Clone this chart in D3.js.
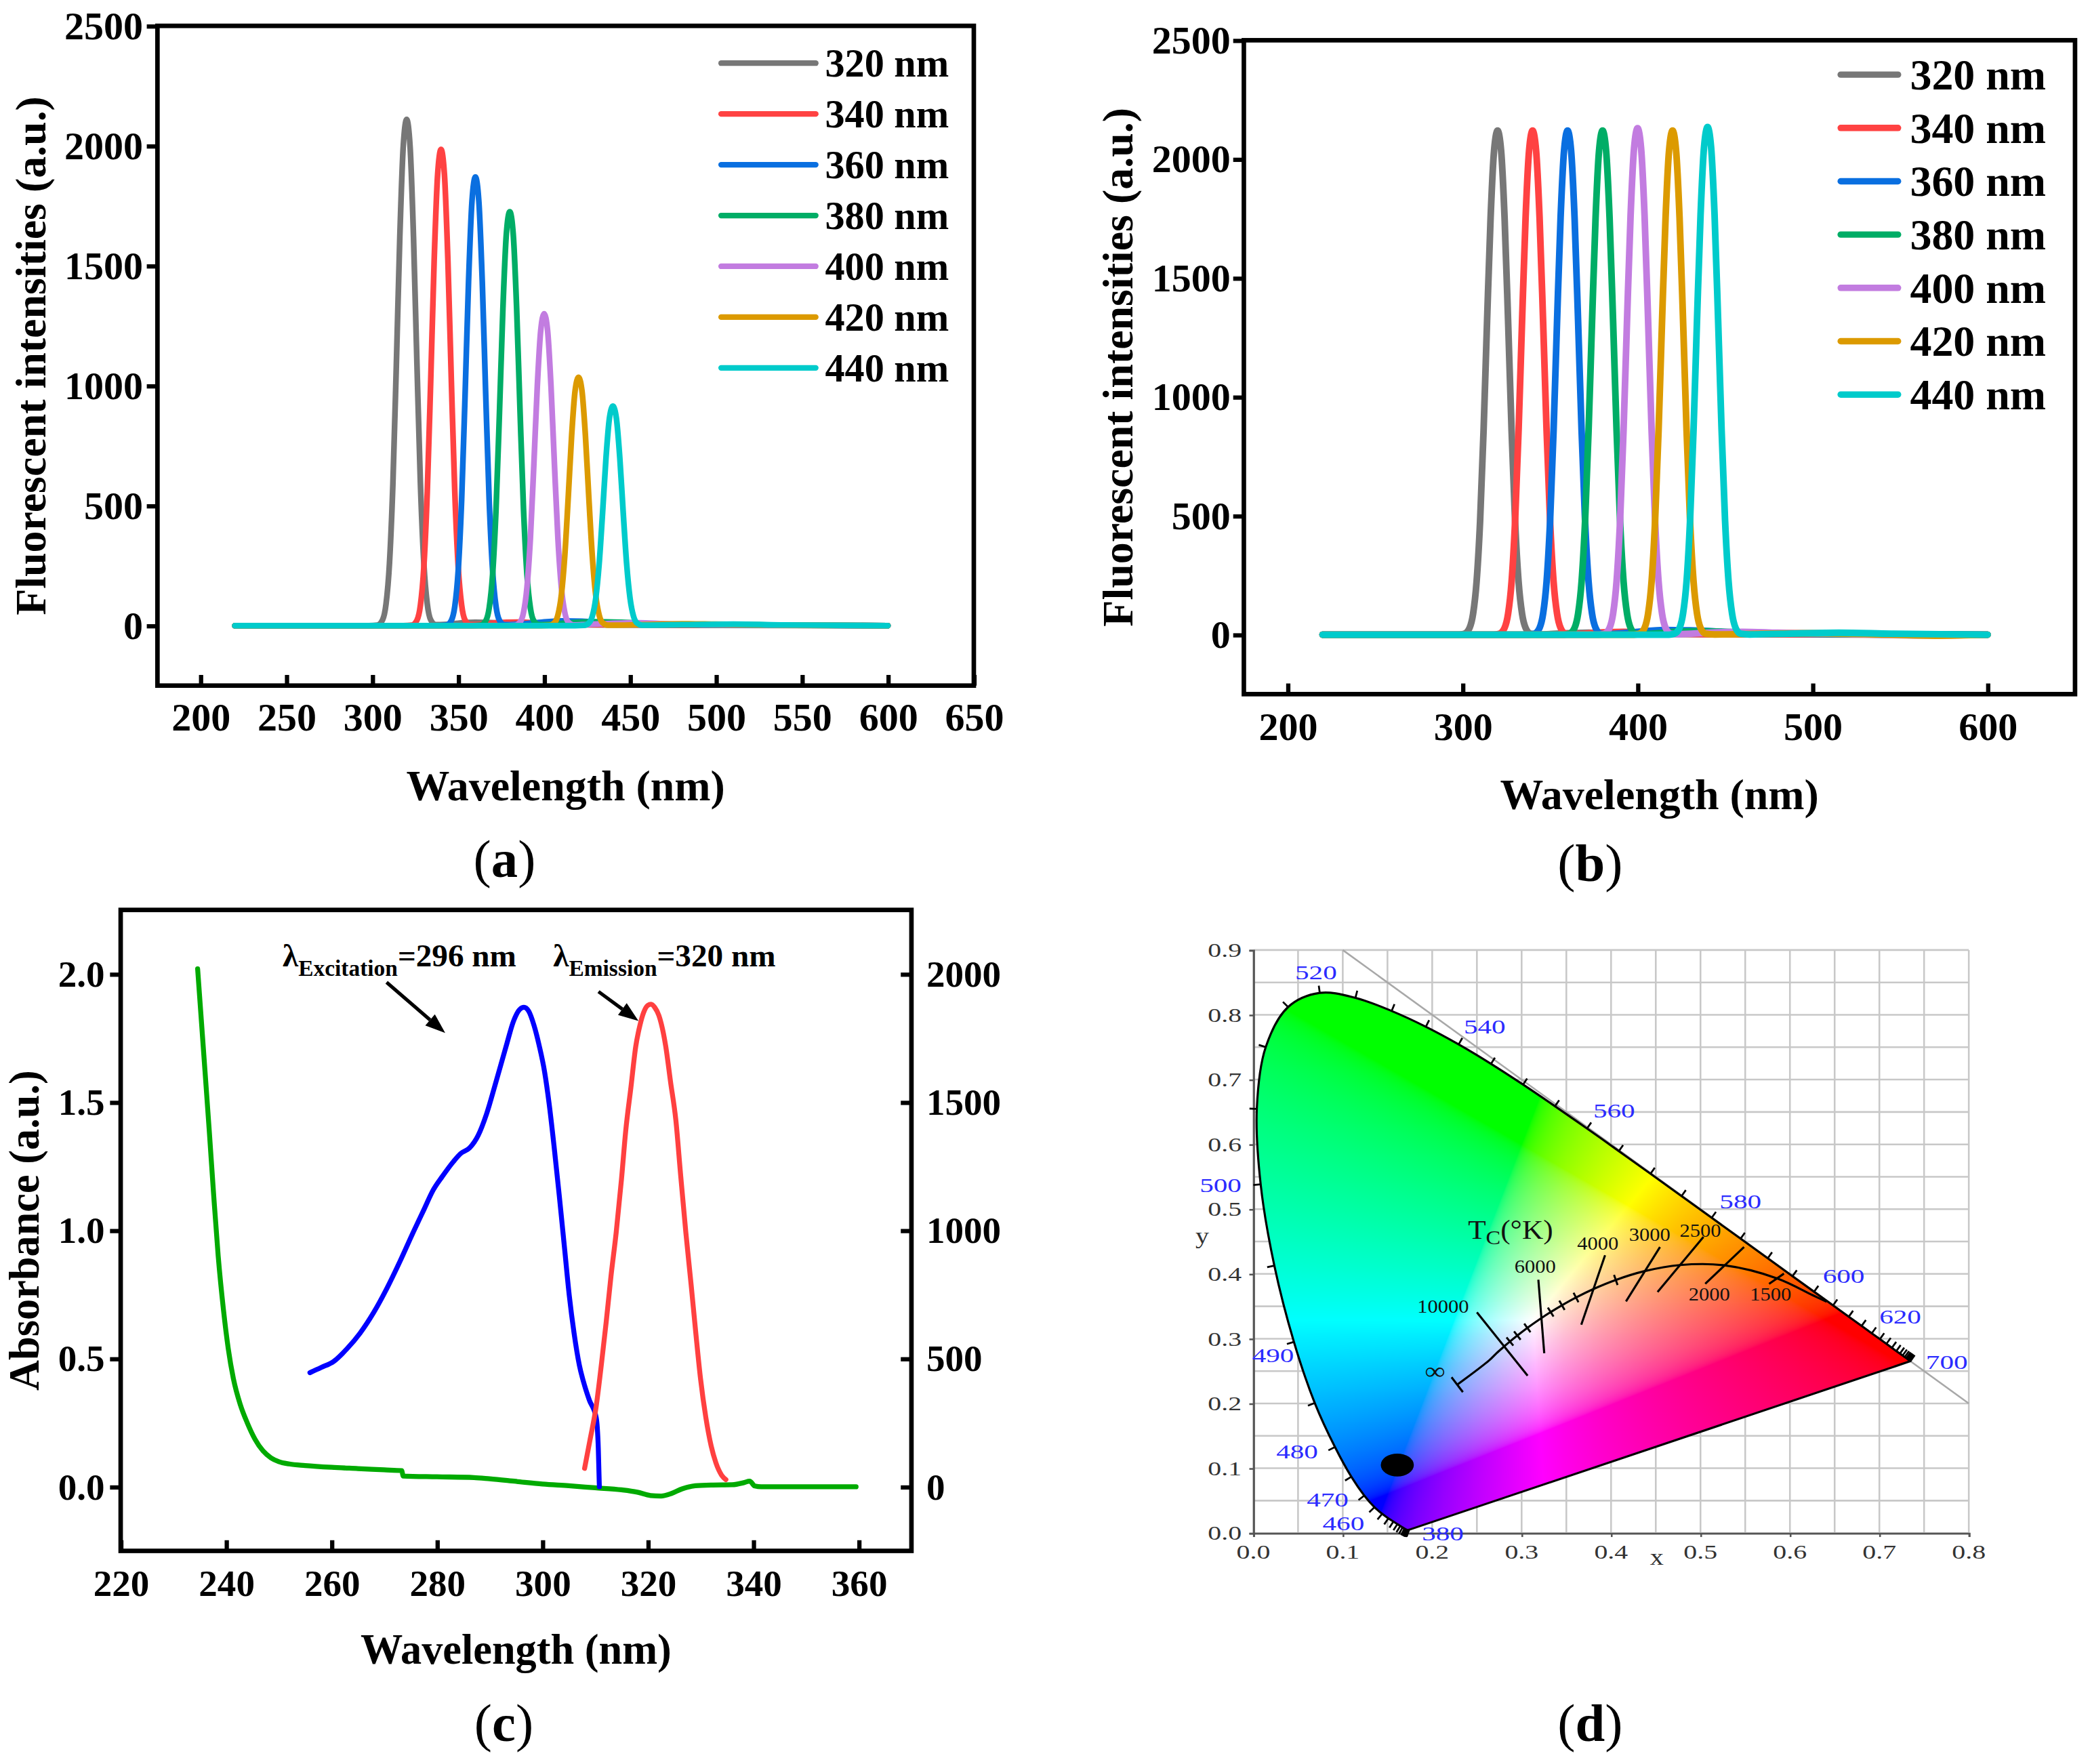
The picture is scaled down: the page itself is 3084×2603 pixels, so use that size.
<!DOCTYPE html>
<html>
<head>
<meta charset="utf-8">
<title>Fluorescence spectra and CIE chromaticity</title>
<script src="https://cdn.jsdelivr.net/npm/d3@7/dist/d3.min.js"></script>
<style>
html,body{margin:0;padding:0;background:#ffffff;overflow:hidden;}
svg{display:block;}
</style>
</head>
<body>
<svg id="fig" width="3084" height="2603" viewBox="0 0 1568 1323.5" xmlns="http://www.w3.org/2000/svg"></svg>
<script>
// ================= DATA =================
const legendLabels = ['320 nm','340 nm','360 nm','380 nm','400 nm','420 nm','440 nm'];
const seriesColors = ['#777777','#ff4242','#0a6fe0','#00ad66','#c27ce0','#dc9a00','#00cbcb'];
const wlTicksA = [200,250,300,350,400,450,500,550,600,650];
const wlTicksB = [200,300,400,500,600];
const intensityTicks = [0,500,1000,1500,2000,2500];

// (a) emission spectra at different excitation wavelengths  [nm, intensity]
const a320 = [[220,0],[298,0],[303,2],[306,24],[308,90],[310,260],[312,593],[314,1087],[316,1616],[318,1996],[320,2110],[322,1996],[324,1616],[326,1087],[328,593],[330,260],[332,90],[334,24],[337,4],[342,5],[350,10],[360,14],[372,12],[385,6],[420,3],[500,1],[600,0]];
const a340 = [[220,0],[318,0],[323,2],[326,23],[328,85],[330,244],[332,558],[334,1022],[336,1521],[338,1878],[340,1985],[342,1878],[344,1521],[346,1022],[348,558],[350,244],[352,85],[354,23],[357,4],[362,5],[372,12],[385,15],[398,10],[420,5],[500,2],[600,0]];
const a360 = [[220,0],[338,0],[343,2],[346,22],[348,80],[350,230],[352,525],[354,963],[356,1432],[358,1769],[360,1870],[362,1769],[364,1432],[366,963],[368,525],[370,230],[372,80],[374,22],[377,4],[382,5],[395,12],[410,20],[422,18],[440,8],[500,3],[600,0]];
const a380 = [[220,0],[358,0],[363,2],[366,20],[368,73],[370,212],[372,485],[374,888],[376,1321],[378,1632],[380,1725],[382,1632],[384,1321],[386,888],[388,485],[390,212],[392,73],[394,20],[397,4],[402,5],[415,12],[430,16],[445,14],[470,6],[520,2],[600,0]];
const a400 = [[220,0],[378,0],[383,1],[386,15],[388,55],[390,160],[392,365],[394,670],[396,996],[398,1230],[400,1300],[402,1230],[404,996],[406,670],[408,365],[410,160],[412,55],[414,15],[417,3],[422,4],[440,10],[455,12],[470,8],[500,3],[600,0]];
const a420 = [[220,0],[398,0],[403,1],[406,12],[408,44],[410,127],[412,291],[414,533],[416,793],[418,979],[420,1035],[422,979],[424,793],[426,533],[428,291],[430,127],[432,44],[434,12],[437,2],[442,2],[460,5],[480,8],[500,6],[530,3],[600,0]];
const a440 = [[220,0],[418,0],[423,1],[426,11],[428,39],[430,113],[432,257],[434,471],[436,701],[438,866],[440,915],[442,866],[444,701],[446,471],[448,257],[450,113],[452,39],[454,11],[457,2],[462,2],[480,4],[510,6],[540,3],[600,0]];

// (b) normalised emission spectra  [nm, intensity]
const b320 = [[220,0],[298,0],[301,4],[304,29],[306,88],[308,223],[310,477],[312,859],[314,1321],[316,1753],[318,2037],[320,2120],[322,2037],[324,1753],[326,1321],[328,859],[330,477],[332,223],[334,88],[336,29],[339,4],[343,1],[360,6],[372,8],[390,4],[450,2],[600,0]];
const b340 = [[220,0],[318,0],[321,4],[324,29],[326,88],[328,223],[330,477],[332,859],[334,1321],[336,1753],[338,2037],[340,2120],[342,2037],[344,1753],[346,1321],[348,859],[350,477],[352,223],[354,88],[356,29],[359,4],[363,2],[380,10],[392,12],[410,6],[460,2],[600,0]];
const b360 = [[220,0],[338,0],[341,4],[344,29],[346,88],[348,223],[350,477],[352,859],[354,1321],[356,1753],[358,2037],[360,2120],[362,2037],[364,1753],[366,1321],[368,859],[370,477],[372,223],[374,88],[376,29],[379,4],[384,3],[400,12],[415,20],[430,18],[460,8],[520,2],[600,0]];
const b380 = [[220,0],[358,0],[361,4],[364,29],[366,88],[368,223],[370,477],[372,859],[374,1321],[376,1753],[378,2037],[380,2120],[382,2037],[384,1753],[386,1321],[388,859],[390,477],[392,223],[394,88],[396,29],[399,4],[404,3],[420,12],[435,15],[450,12],[490,5],[540,1],[600,0]];
const b400 = [[220,0],[378,0],[381,4],[384,29],[386,88],[388,224],[390,479],[392,863],[394,1327],[396,1762],[398,2047],[400,2130],[402,2047],[404,1762],[406,1327],[408,863],[410,479],[412,224],[414,88],[416,29],[419,4],[424,2],[440,8],[460,12],[480,8],[520,3],[560,-3],[600,0]];
const b420 = [[220,0],[398,0],[401,4],[404,29],[406,88],[408,223],[410,477],[412,859],[414,1321],[416,1753],[418,2037],[420,2120],[422,2037],[424,1753],[426,1321],[428,859],[430,477],[432,223],[434,88],[436,29],[439,4],[444,1],[470,4],[500,6],[530,3],[570,-4],[600,0]];
const b440 = [[220,0],[418,0],[421,4],[424,29],[426,89],[428,224],[430,480],[432,865],[434,1330],[436,1766],[438,2052],[440,2135],[442,2052],[444,1766],[446,1330],[448,865],[450,480],[452,224],[454,89],[456,29],[459,4],[464,1],[490,5],[515,8],[545,4],[600,0]];

// (c) absorbance (left axis) and excitation / emission (right axis)
const wlTicksC = [220,240,260,280,300,320,340,360];
const absTicks = [0,0.5,1.0,1.5,2.0];
const intTicksC = [0,500,1000,1500,2000];
const cAbsorbance = [[234.6,2.02],[235.3,1.82],[236,1.62],[236.8,1.39],[237.6,1.15],[238.5,0.90],[239.5,0.69],[240.4,0.54],[241.4,0.42],[242.7,0.32],[244,0.25],[245.5,0.185],[247,0.14],[248.5,0.113],[250,0.098],[252,0.089],[255,0.083],[260,0.076],[265,0.071],[270,0.066],[273.3,0.063],[273.6,0.042],[280,0.039],[287,0.036],[290,0.031],[295,0.021],[300,0.011],[305,0.004],[310,-0.004],[315,-0.012],[318,-0.021],[320.5,-0.034],[322.5,-0.036],[324.5,-0.026],[326.5,-0.008],[329,0.004],[332,0.007],[336,0.008],[338.2,0.016],[339.3,0.022],[340.3,0.003],[341.5,0],[359.5,0]];
const cExcitation = [[255.9,445],[258,465],[260.4,489],[263,540],[265.4,599],[268,680],[270.5,774],[273,880],[275.5,993],[277.5,1080],[279.3,1158],[281,1210],[283.1,1268],[284.5,1300],[286.2,1322],[287.8,1370],[289.4,1454],[291.2,1580],[293.1,1717],[294.5,1815],[295.7,1862],[296.5,1870],[297.4,1855],[298.4,1800],[299.4,1720],[300.4,1620],[301.3,1490],[302.2,1330],[303.2,1135],[304.2,930],[305.1,745],[306,600],[307,475],[308,395],[308.9,338],[310.2,270],[310.6,150],[310.8,0]];
const cEmission = [[308,72],[309,180],[310.2,314],[311.2,480],[312.1,643],[313,820],[314,993],[315,1200],[315.8,1388],[316.8,1560],[317.7,1717],[318.5,1800],[319.2,1850],[320,1878],[320.6,1882],[321.3,1870],[322.1,1838],[323.4,1717],[324.3,1580],[325.3,1432],[326.2,1220],[327.2,993],[328.2,790],[329.1,599],[330,420],[331,270],[332,160],[332.9,94],[334,45],[334.8,28]];

// (d) CIE 1931 chromaticity diagram
const cieAxisX = [0,0.1,0.2,0.3,0.4,0.5,0.6,0.7,0.8];
const cieAxisY = [0,0.1,0.2,0.3,0.4,0.5,0.6,0.7,0.8,0.9];
const cieLocus = [[380,0.1741,0.0050],[385,0.1740,0.0050],[390,0.1738,0.0049],[395,0.1736,0.0049],[400,0.1733,0.0048],[405,0.1730,0.0048],[410,0.1726,0.0048],[415,0.1721,0.0048],[420,0.1714,0.0051],[425,0.1703,0.0058],[430,0.1689,0.0069],[435,0.1669,0.0086],[440,0.1644,0.0109],[445,0.1611,0.0138],[450,0.1566,0.0177],[455,0.1510,0.0227],[460,0.1440,0.0297],[465,0.1355,0.0399],[470,0.1241,0.0578],[475,0.1096,0.0868],[480,0.0913,0.1327],[485,0.0687,0.2007],[490,0.0454,0.2950],[495,0.0235,0.4127],[500,0.0082,0.5384],[505,0.0039,0.6548],[510,0.0139,0.7502],[515,0.0389,0.8120],[520,0.0743,0.8338],[525,0.1142,0.8262],[530,0.1547,0.8059],[535,0.1929,0.7816],[540,0.2296,0.7543],[545,0.2658,0.7243],[550,0.3016,0.6923],[555,0.3373,0.6589],[560,0.3731,0.6245],[565,0.4087,0.5896],[570,0.4441,0.5547],[575,0.4788,0.5202],[580,0.5125,0.4866],[585,0.5448,0.4544],[590,0.5752,0.4242],[595,0.6029,0.3965],[600,0.6270,0.3725],[605,0.6482,0.3514],[610,0.6658,0.3340],[615,0.6801,0.3197],[620,0.6915,0.3083],[625,0.7006,0.2993],[630,0.7079,0.2920],[635,0.7140,0.2859],[640,0.7190,0.2809],[645,0.7230,0.2770],[650,0.7260,0.2740],[655,0.7283,0.2717],[660,0.7300,0.2700],[665,0.7311,0.2689],[670,0.7320,0.2680],[675,0.7327,0.2673],[680,0.7334,0.2666],[690,0.7344,0.2656],[700,0.7347,0.2653]];
const cieLabelWl = ['520','540','560','580','600','620','700','500','490','480','470','460','380'];
const cieLabelXY = [[0.0467,0.8546],[0.2353,0.7707],[0.38,0.642],[0.5213,0.5014],[0.6367,0.3866],[0.70,0.3235],[0.752,0.2535],[-0.06,0.5266],[-0.0013,0.2636],[0.0256,0.1156],[0.0597,0.041],[0.0774,0.004],[0.1885,-0.011]];
const planckLocus = [[0.228,0.229],[0.2637,0.2666],[0.2719,0.2776],[0.2807,0.2883],[0.2869,0.2956],[0.2952,0.3048],[0.3064,0.3166],[0.3221,0.3318],[0.3325,0.3411],[0.3451,0.3516],[0.3608,0.3636],[0.3805,0.3768],[0.4053,0.3907],[0.4369,0.4041],[0.4770,0.4137],[0.5267,0.4133],[0.5857,0.3931],[0.6251,0.3674],[0.641,0.357]];
const planckMinorTicks = [[0.2869,0.2956],[0.2952,0.3048],[0.3064,0.3166],[0.3325,0.3411],[0.3451,0.3516],[0.3608,0.3636],[0.4053,0.3907]];
const cctLabels = ['10000','6000','4000','3000','2500','2000','1500'];
const cctIsotherms = [[[0.25,0.3406],[0.3067,0.2428]],[[0.3187,0.391],[0.3253,0.2775]],[[0.3933,0.4289],[0.3667,0.3216]],[[0.4547,0.4415],[0.4167,0.3576]],[[0.5033,0.4572],[0.452,0.3721]],[[0.5487,0.4415],[0.5053,0.3847]],[[0.5933,0.4005],[0.5767,0.3847]]];
const cctLabelXY = [[0.1833,0.3406],[0.292,0.4017],[0.362,0.437],[0.42,0.451],[0.4767,0.4572],[0.4867,0.3595],[0.5553,0.3595]];
const cieSample = [0.161,0.105];

// ================= DRAWING =================
const FONT = "'Liberation Serif','Times New Roman',Times,serif";
const svg = d3.select('#fig');
svg.append('rect').attr('x',0).attr('y',0).attr('width',1568).attr('height',1323.5).attr('fill','#fff');
const defs = svg.append('defs');

function panelLabel(cx, by, letter){
  const t = svg.append('text').attr('x',cx).attr('y',by).attr('text-anchor','middle')
    .attr('font-family',FONT).attr('font-size',40).attr('fill','#000');
  t.append('tspan').text('(');
  t.append('tspan').attr('font-weight','bold').text(letter);
  t.append('tspan').text(')');
}

function styleAxis(ax, fs){
  ax.select('.domain').remove();
  ax.attr('font-family',FONT).attr('font-size',fs).attr('font-weight','bold');
  ax.selectAll('line').attr('stroke','#000').attr('stroke-width',3.2);
  ax.selectAll('text').attr('fill','#000');
}

function spectraPanel(o){
  const g = svg.append('g');
  const x = d3.scaleLinear().domain([175,650]).range([o.left,o.right]);
  const y = d3.scaleLinear().domain([-250,2500]).range([o.bottom,o.top]);
  defs.append('clipPath').attr('id','clip'+o.id).append('rect')
    .attr('x',o.left).attr('y',o.top).attr('width',o.right-o.left).attr('height',o.bottom-o.top);
  const line = d3.line().x(d=>x(d[0])).y(d=>y(d[1])).curve(d3.curveMonotoneX);
  g.append('g').attr('clip-path','url(#clip'+o.id+')')
    .selectAll('path').data(o.series).join('path')
    .attr('d',line).attr('fill','none')
    .attr('stroke',(d,i)=>seriesColors[i]).attr('stroke-width',o.lw)
    .attr('stroke-linejoin','round').attr('stroke-linecap','round');

  const xa = g.append('g').attr('transform',`translate(0,${o.bottom})`)
    .call(d3.axisBottom(x).tickValues(o.xticks).tickSize(-8).tickFormat(d3.format('d')));
  styleAxis(xa, o.tickFs);
  xa.selectAll('text').attr('y',o.xLabOff).attr('dy',0);

  const ya = g.append('g').attr('transform',`translate(${o.left},0)`)
    .call(d3.axisLeft(y).tickValues(intensityTicks).tickSize(8).tickPadding(o.yPad).tickFormat(d3.format('d')));
  styleAxis(ya, o.tickFs);

  g.append('rect').attr('x',o.left).attr('y',o.top).attr('width',o.right-o.left).attr('height',o.bottom-o.top)
    .attr('fill','none').attr('stroke','#000').attr('stroke-width',3.4);

  // legend
  const lg = g.append('g');
  legendLabels.forEach((lab,i)=>{
    const yy = o.legY0 + i*o.legDy;
    lg.append('line').attr('x1',o.legX1).attr('x2',o.legX2).attr('y1',yy).attr('y2',yy)
      .attr('stroke',seriesColors[i]).attr('stroke-width',o.legLw).attr('stroke-linecap','round');
    lg.append('text').attr('x',o.legTx).attr('y',yy+o.legFs*0.34)
      .attr('font-family',FONT).attr('font-weight','bold').attr('font-size',o.legFs).attr('fill','#000').text(lab);
  });

  // titles
  g.append('text').attr('x',(o.left+o.right)/2).attr('y',o.xTitleY).attr('text-anchor','middle')
    .attr('font-family',FONT).attr('font-weight','bold').attr('font-size',o.titleFs).text('Wavelength (nm)');
  g.append('text').attr('transform',`translate(${o.yTitleX},${(o.top+o.bottom)/2}) rotate(-90)`)
    .attr('text-anchor','middle').attr('font-family',FONT).attr('font-weight','bold').attr('font-size',o.titleFs)
    .text('Fluorescent intensities (a.u.)');
}

spectraPanel({id:'a', left:118.1, right:730.6, top:19.4, bottom:514.4, series:[a320,a340,a360,a380,a400,a420,a440],
  xticks:wlTicksA, lw:4.3, tickFs:29.5, xLabOff:33.6, yPad:2.8,
  legX1:541, legX2:612, legY0:47.4, legDy:38.1, legTx:619, legFs:29.6, legLw:4.2,
  titleFs:32.5, xTitleY:600.6, yTitleX:34});
panelLabel(378.5, 658, 'a');

spectraPanel({id:'b', left:933.2, right:1556.8, top:30.2, bottom:520.8, series:[b320,b340,b360,b380,b400,b420,b440],
  xticks:wlTicksB, lw:5.0, tickFs:29.5, xLabOff:34.2, yPad:2,
  legX1:1381, legX2:1424, legY0:56, legDy:40, legTx:1433, legFs:32.5, legLw:4.8,
  titleFs:32.5, xTitleY:607, yTitleX:849.5});
panelLabel(1193, 661, 'b');

// ---------- panel (c) ----------
(function(){
  const L=90.5, R=683.8, T=682.7, B=1163.6;
  const g = svg.append('g');
  const x = d3.scaleLinear().domain([220,370]).range([L,R]);
  const yL = d3.scaleLinear().domain([-0.25,2.25]).range([B,T]);
  const yR = d3.scaleLinear().domain([-250,2250]).range([B,T]);
  defs.append('clipPath').attr('id','clipc').append('rect').attr('x',L).attr('y',T).attr('width',R-L).attr('height',B-T);
  const cg = g.append('g').attr('clip-path','url(#clipc)');
  const lineL = d3.line().x(d=>x(d[0])).y(d=>yL(d[1])).curve(d3.curveMonotoneX);
  const lineR = d3.line().x(d=>x(d[0])).y(d=>yR(d[1])).curve(d3.curveMonotoneX);
  cg.append('path').attr('d',lineL(cAbsorbance)).attr('fill','none').attr('stroke','#00aa00').attr('stroke-width',3.7).attr('stroke-linecap','round').attr('stroke-linejoin','round');
  cg.append('path').attr('d',lineR(cExcitation)).attr('fill','none').attr('stroke','#0000ff').attr('stroke-width',3.7).attr('stroke-linecap','round').attr('stroke-linejoin','round');
  cg.append('path').attr('d',lineR(cEmission)).attr('fill','none').attr('stroke','#ff4040').attr('stroke-width',3.7).attr('stroke-linecap','round').attr('stroke-linejoin','round');

  const xa = g.append('g').attr('transform',`translate(0,${B})`)
    .call(d3.axisBottom(x).tickValues(wlTicksC).tickSize(-8).tickFormat(d3.format('d')));
  styleAxis(xa, 28);
  xa.selectAll('text').attr('y',34).attr('dy',0);
  const ya = g.append('g').attr('transform',`translate(${L},0)`)
    .call(d3.axisLeft(yL).tickValues(absTicks).tickSize(8).tickPadding(4).tickFormat(d3.format('.1f')));
  styleAxis(ya, 28);
  const yr = g.append('g').attr('transform',`translate(${R},0)`)
    .call(d3.axisRight(yR).tickValues(intTicksC).tickSize(-8).tickPadding(11.2).tickFormat(d3.format('d')));
  styleAxis(yr, 28);
  yr.selectAll('text').attr('x',11.2);

  g.append('rect').attr('x',L).attr('y',T).attr('width',R-L).attr('height',B-T)
    .attr('fill','none').attr('stroke','#000').attr('stroke-width',3.4);

  g.append('text').attr('x',(L+R)/2).attr('y',1248).attr('text-anchor','middle')
    .attr('font-family',FONT).attr('font-weight','bold').attr('font-size',31.7).text('Wavelength (nm)');
  g.append('text').attr('transform',`translate(29,${(T+B)/2}) rotate(-90)`).attr('text-anchor','middle')
    .attr('font-family',FONT).attr('font-weight','bold').attr('font-size',31.7).text('Absorbance (a.u.)');

  // annotations
  function annot(x0, y0, sub, rest){
    const t = g.append('text').attr('x',x0).attr('y',y0).attr('font-family',FONT).attr('font-weight','bold').attr('font-size',24).attr('fill','#000');
    t.append('tspan').text('λ');
    t.append('tspan').attr('font-size',17).attr('dy',7).text(sub);
    t.append('tspan').attr('dy',-7).text(rest);
  }
  annot(212, 725, 'Excitation', '=296 nm');
  annot(415, 725, 'Emission', '=320 nm');
  function arrow(x1,y1,x2,y2){
    const ang = Math.atan2(y2-y1,x2-x1), hl=15, hw=5.5;
    const bx = x2 - hl*Math.cos(ang), by = y2 - hl*Math.sin(ang);
    g.append('line').attr('x1',x1).attr('y1',y1).attr('x2',bx).attr('y2',by).attr('stroke','#000').attr('stroke-width',2.6);
    const p = [[x2,y2],[bx + hw*Math.sin(ang), by - hw*Math.cos(ang)],[bx - hw*Math.sin(ang), by + hw*Math.cos(ang)]];
    g.append('path').attr('d','M'+p.map(q=>q.join(',')).join('L')+'Z').attr('fill','#000');
  }
  arrow(290, 737, 334, 775);
  arrow(449, 744, 479, 766);
})();
panelLabel(378, 1306, 'c');

// ---------- panel (d) ----------
(function(){
  const xD = d3.scaleLinear().domain([0,0.8]).range([940.3,1477.1]);
  const yD = d3.scaleLinear().domain([0,0.9]).range([1150.2,712.8]);
  const g = svg.append('g');
  const gridX = d3.range(0,17).map(i=>i*0.05);
  const gridY = d3.range(0,19).map(i=>i*0.05);
  g.append('g').selectAll('line').data(gridX).join('line')
    .attr('x1',d=>xD(d)).attr('x2',d=>xD(d)).attr('y1',yD(0)).attr('y2',yD(0.9))
    .attr('stroke','#c8c8c8').attr('stroke-width',1.3);
  g.append('g').selectAll('line').data(gridY).join('line')
    .attr('y1',d=>yD(d)).attr('y2',d=>yD(d)).attr('x1',xD(0)).attr('x2',xD(0.8))
    .attr('stroke','#c8c8c8').attr('stroke-width',1.3);
  // x + y = 1 line
  g.append('line').attr('x1',xD(0.1)).attr('y1',yD(0.9)).attr('x2',xD(0.8)).attr('y2',yD(0.2))
    .attr('stroke','#a8a8a8').attr('stroke-width',1.3);

  const stretched = (sel, x, y, txt, fs, sx, fill, anchor) => {
    sel.append('text').attr('transform',`translate(${x},${y}) scale(${sx},1)`).attr('text-anchor',anchor||'start')
      .attr('font-family',FONT).attr('font-size',fs).attr('fill',fill).text(txt);
  };
  // axes
  const ax = g.append('g').attr('transform',`translate(0,${yD(0)})`)
    .call(d3.axisBottom(xD).tickValues(cieAxisX).tickSize(3).tickFormat(''));
  ax.select('.domain').attr('stroke','#555').attr('stroke-width',1.5);
  ax.selectAll('line').attr('stroke','#555').attr('stroke-width',1.3);
  const ay = g.append('g').attr('transform',`translate(${xD(0)},0)`)
    .call(d3.axisLeft(yD).tickValues(cieAxisY).tickSize(3).tickFormat(''));
  ay.select('.domain').attr('stroke','#555').attr('stroke-width',1.5);
  ay.selectAll('line').attr('stroke','#555').attr('stroke-width',1.3);
  const axLab = g.append('g');
  cieAxisX.forEach(v=>stretched(axLab, xD(v), 1169.3, d3.format('.1f')(v), 15, 1.35, '#333', 'middle'));
  cieAxisY.forEach(v=>stretched(axLab, 931.5, yD(v)+5.2, d3.format('.1f')(v), 15, 1.35, '#333', 'end'));
  stretched(axLab, 1243, 1174, 'x', 17, 1.2, '#333', 'middle');
  stretched(axLab, 902, 933, 'y', 17, 1.2, '#333', 'middle');

  // locus path
  const pts = cieLocus.map(d=>[xD(d[1]), yD(d[2])]);
  const locusLine = d3.line().curve(d3.curveCatmullRom.alpha(0.5));
  const locusD = locusLine(pts) + 'Z';
  defs.append('clipPath').attr('id','locusClip').append('path').attr('d',locusD);

  // colour fill (chromaticity -> sRGB)
  const x0 = xD(0), x1 = xD(0.8), y0 = yD(0.9), y1 = yD(0);
  const W = 1080, H = 880;
  const cv = document.createElement('canvas'); cv.width=W; cv.height=H;
  const ctx = cv.getContext('2d'); const im = ctx.createImageData(W,H);
  const gam = v => v<=0.0031308 ? 12.92*v : 1.055*Math.pow(v,1/2.4)-0.055;
  for(let j=0;j<H;j++){
    const cy = yD.invert(y0 + (j+0.5)/H*(y1-y0));
    for(let i=0;i<W;i++){
      const cx = xD.invert(x0 + (i+0.5)/W*(x1-x0));
      const k = (j*W+i)*4;
      if(cy<=0.001){ im.data[k]=120; im.data[k+1]=0; im.data[k+2]=255; im.data[k+3]=255; continue; }
      const X = cx/cy, Z = (1-cx-cy)/cy;
      let r = 3.2406*X - 1.5372 - 0.4986*Z;
      let gg = -0.9689*X + 1.8758 + 0.0415*Z;
      let b = 0.0557*X - 0.2040 + 1.0570*Z;
      r=Math.max(r,0); gg=Math.max(gg,0); b=Math.max(b,0);
      const m = Math.max(r,gg,b,1e-6);
      im.data[k]=Math.round(255*gam(r/m)); im.data[k+1]=Math.round(255*gam(gg/m)); im.data[k+2]=Math.round(255*gam(b/m)); im.data[k+3]=255;
    }
  }
  ctx.putImageData(im,0,0);
  g.append('image').attr('href',cv.toDataURL()).attr('x',x0).attr('y',y0).attr('width',x1-x0).attr('height',y1-y0)
    .attr('preserveAspectRatio','none').attr('clip-path','url(#locusClip)');
  g.append('path').attr('d',locusD).attr('fill','none').attr('stroke','#000').attr('stroke-width',1.6).attr('stroke-linejoin','round');

  // ticks on the spectral locus (outward)
  const cW = [xD(0.33), yD(0.33)];
  const tk = g.append('g');
  pts.forEach((p,i)=>{
    let a=i, b=i;
    while(a>0 && Math.hypot(pts[a][0]-p[0],pts[a][1]-p[1])<4) a--;
    while(b<pts.length-1 && Math.hypot(pts[b][0]-p[0],pts[b][1]-p[1])<4) b++;
    let tx = pts[b][0]-pts[a][0], ty = pts[b][1]-pts[a][1];
    const len = Math.hypot(tx,ty)||1; tx/=len; ty/=len;
    let nx = ty, ny = -tx;
    if(nx*(cW[0]-p[0]) + ny*(cW[1]-p[1]) > 0){ nx=-nx; ny=-ny; }
    tk.append('line').attr('x1',p[0]).attr('y1',p[1]).attr('x2',p[0]+nx*5.5).attr('y2',p[1]+ny*5.5)
      .attr('stroke','#000').attr('stroke-width',1.4);
  });

  // Planckian locus
  const pp = planckLocus.map(d=>[xD(d[0]), yD(d[1])]);
  g.append('path').attr('d',d3.line().curve(d3.curveCatmullRom.alpha(0.5))(pp)).attr('fill','none').attr('stroke','#000').attr('stroke-width',1.6);
  (function(){
    const p=pp[0], q=pp[1]; let tx=q[0]-p[0], ty=q[1]-p[1]; const l=Math.hypot(tx,ty); tx/=l; ty/=l;
    g.append('line').attr('x1',p[0]-ty*7).attr('y1',p[1]+tx*7).attr('x2',p[0]+ty*7).attr('y2',p[1]-tx*7).attr('stroke','#000').attr('stroke-width',1.6);
  })();
  planckMinorTicks.forEach(d=>{
    const idx = planckLocus.findIndex(q=>q[0]===d[0]);
    const p = pp[idx], a = pp[Math.max(idx-1,0)], b = pp[Math.min(idx+1,pp.length-1)];
    let tx=b[0]-a[0], ty=b[1]-a[1]; const l=Math.hypot(tx,ty); tx/=l; ty/=l;
    g.append('line').attr('x1',p[0]-ty*4).attr('y1',p[1]+tx*4).attr('x2',p[0]+ty*4).attr('y2',p[1]-tx*4).attr('stroke','#000').attr('stroke-width',1.5);
  });
  g.append('g').selectAll('line').data(cctIsotherms).join('line')
    .attr('x1',d=>xD(d[0][0])).attr('y1',d=>yD(d[0][1])).attr('x2',d=>xD(d[1][0])).attr('y2',d=>yD(d[1][1]))
    .attr('stroke','#000').attr('stroke-width',1.6);

  // labels drawn above the colour fill
  const lab = g.append('g');
  cieLabelWl.forEach((t,i)=>stretched(lab, xD(cieLabelXY[i][0]), yD(cieLabelXY[i][1]), t, 15.5, 1.35, '#2b2bff', 'start'));
  cctLabels.forEach((t,i)=>stretched(lab, xD(cctLabelXY[i][0]), yD(cctLabelXY[i][1]), t, 13.5, 1.15, '#111', 'start'));
  const tc = lab.append('text').attr('transform',`translate(${xD(0.24)},${yD(0.454)}) scale(1.1,1)`)
    .attr('font-family',FONT).attr('font-size',20).attr('fill','#111');
  tc.append('tspan').text('T');
  tc.append('tspan').attr('font-size',15).attr('dy',4).text('C');
  tc.append('tspan').attr('dy',-4).text('(°K)');
  stretched(lab, xD(0.2033), yD(0.248)+5, '∞', 18, 1.2, '#111', 'middle');

  // sample chromaticity point
  g.append('ellipse').attr('cx',xD(cieSample[0])).attr('cy',yD(cieSample[1])).attr('rx',12.4).attr('ry',8.6).attr('fill','#000');
})();
panelLabel(1193, 1306, 'd');
</script>
</body>
</html>
